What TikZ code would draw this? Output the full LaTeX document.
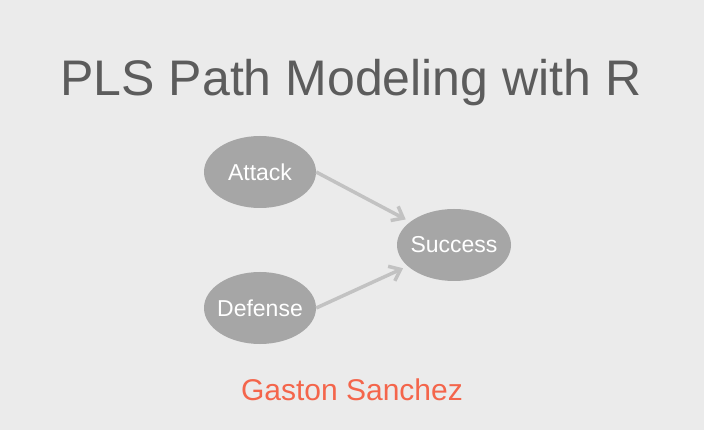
\documentclass[tikz,border=0pt]{standalone}
\usepackage{fontspec}
\setmainfont{Liberation Sans}
\usetikzlibrary{shapes.geometric,arrows.meta}
\definecolor{bggray}{HTML}{EBEBEB}
\definecolor{titlegray}{HTML}{5C5C5C}
\definecolor{lvgray}{HTML}{A6A6A6}
\definecolor{arrowgray}{HTML}{C2C2C2}
\definecolor{authorred}{HTML}{F4654B}
\tikzset{>={Straight Barb[length=10pt,width=16pt]}}

\begin{document}
\begin{tikzpicture}[x=1pt,y=-1pt,
    lv/.style={ellipse,fill=lvgray,text=white,inner xsep=-14pt,inner ysep=0pt,minimum width=112pt,minimum height=72pt,font=\fontsize{23}{27}\selectfont},
    path/.style={->,draw=arrowgray,line width=3.5pt,shorten >=5pt}]
                \fill[bggray] (0,0) rectangle (704,430);
                \node[anchor=base,text=titlegray,font=\fontsize{50}{60}\selectfont] (title) at (351,96) {PLS Path Modeling with R};
                \node[lv] (atk) at (260,172) {Attack};
                \node[lv] (def) at (260,308) {Defense};
                \node[lv,minimum width=114pt] (suc) at (454,245) {Success};
                \node[anchor=base,text=authorred,font=\fontsize{30}{35}\selectfont] (author) at (352,400) {Gaston Sanchez};
                \draw[path] (atk.east) -- (suc);
                \draw[path] (def.east) -- (suc);
            \end{tikzpicture}
\end{document}
